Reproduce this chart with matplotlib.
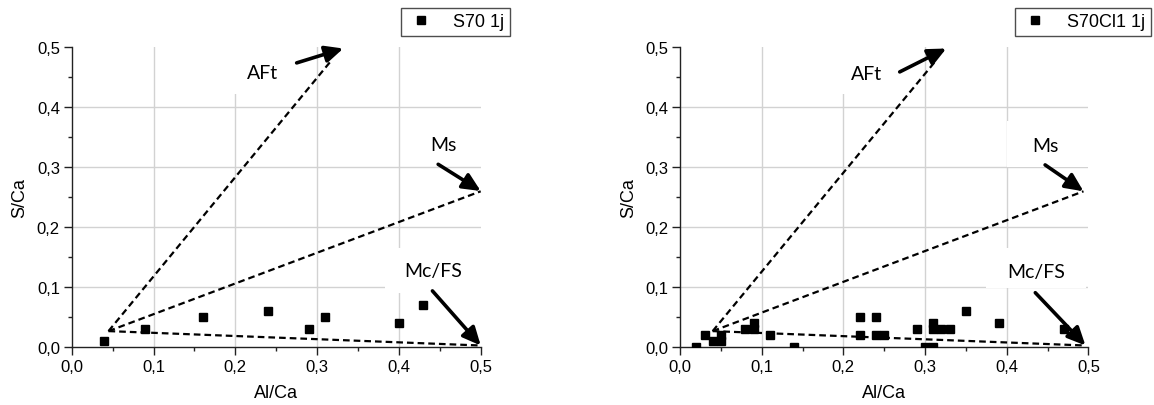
import matplotlib
matplotlib.use('Agg')
import matplotlib.pyplot as plt
from matplotlib.patches import Rectangle
from matplotlib.ticker import MultipleLocator

# ---------------- data ----------------
s70_al_ca = [0.04, 0.09, 0.16, 0.24, 0.29, 0.31, 0.40, 0.43]
s70_s_ca = [0.01, 0.03, 0.05, 0.06, 0.03, 0.05, 0.04, 0.07]

s70cl_al_ca = [0.02, 0.03, 0.04, 0.05, 0.05, 0.08, 0.09, 0.09, 0.11, 0.14,
               0.22, 0.22, 0.24, 0.24, 0.25, 0.29, 0.30, 0.31, 0.31, 0.31,
               0.32, 0.33, 0.35, 0.39, 0.47]
s70cl_s_ca = [0.00, 0.02, 0.01, 0.01, 0.02, 0.03, 0.03, 0.04, 0.02, 0.00,
              0.05, 0.02, 0.05, 0.02, 0.02, 0.03, 0.00, 0.00, 0.04, 0.03,
              0.03, 0.03, 0.06, 0.04, 0.03]

series_labels = ['S70 1j', 'S70Cl1 1j']
phase_labels = ['AFt', 'Ms', 'Mc/FS']

tick_values = [0.0, 0.1, 0.2, 0.3, 0.4, 0.5]
tick_labels = ['0,0', '0,1', '0,2', '0,3', '0,4', '0,5']
grid_values = [0.1, 0.2, 0.3, 0.4]

# dashed guide lines: common origin and end points (AFt, Ms, Mc/FS)
left_origin = (0.045, 0.027)
left_line_ends = [(0.318, 0.479), (0.5, 0.26), (0.5, 0.003)]
right_origin = (0.04, 0.027)
right_line_ends = [(0.314, 0.479), (0.494, 0.26), (0.4964, 0.003)]

# annotation: label position, arrow start, arrow tip, white box (x0, x1, y0, y1)
left_label_pos = [(0.233, 0.458), (0.454, 0.338), (0.442, 0.128)]
left_arrow_from = [(0.275, 0.474), (0.448, 0.305), (0.441, 0.094)]
left_arrow_to = [(0.332, 0.498), (0.5, 0.2605), (0.5, 0.003)]
left_boxes = [(0.197, 0.277, 0.422, 0.5), (0.403, 0.5, 0.302, 0.374), (0.383, 0.5, 0.091, 0.166)]

right_label_pos = [(0.228, 0.457), (0.448, 0.337), (0.4365, 0.127)]
right_arrow_from = [(0.269, 0.459), (0.447, 0.304), (0.435, 0.091)]
right_arrow_to = [(0.326, 0.498), (0.494, 0.26), (0.4964, 0.003)]
right_boxes = [(0.186, 0.269, 0.422, 0.5), (0.40, 0.5, 0.301, 0.378), (0.375, 0.4965, 0.0995, 0.166)]

W, H = 1154, 406
fig = plt.figure(figsize=(W / 100, H / 100), dpi=100)

TICK_FONT = dict(family='Liberation Sans', size=12)
LABEL_FONT = dict(family='Liberation Sans', size=13)


def make_panel(rect, xs, ys, label, origin, ends, lab_pos, arr_from, arr_to, boxes, legend_anchor):
    ax = fig.add_axes(rect)
    ax.set_xlim(0, 0.5)
    ax.set_ylim(0, 0.5)
    for s in ['top', 'right']:
        ax.spines[s].set_visible(False)
    for s in ['left', 'bottom']:
        ax.spines[s].set_linewidth(1.0)
        ax.spines[s].set_color('#222222')
    # grid
    for g in grid_values:
        ax.axvline(g, color='#d2d2d2', lw=1.0, zorder=0)
        ax.axhline(g, color='#d2d2d2', lw=1.0, zorder=0)
    # white boxes behind labels
    for (x0, x1, y0, y1) in boxes:
        ax.add_patch(Rectangle((x0, y0), x1 - x0, y1 - y0, facecolor='white',
                               edgecolor='none', zorder=1, clip_on=False))
    ax.set_xticks(tick_values)
    ax.set_xticklabels(tick_labels, fontdict=TICK_FONT)
    ax.set_yticks(tick_values)
    ax.set_yticklabels(tick_labels, fontdict=TICK_FONT)
    ax.xaxis.set_minor_locator(MultipleLocator(0.05))
    ax.yaxis.set_minor_locator(MultipleLocator(0.05))
    ax.tick_params(which='major', direction='out', length=5.5, width=1.0, color='#222222', pad=3)
    ax.tick_params(which='minor', direction='out', length=3, width=1.0, color='#222222')
    ax.set_xlabel('Al/Ca', fontdict=LABEL_FONT, labelpad=7)
    ax.set_ylabel('S/Ca', fontdict=LABEL_FONT, labelpad=6)

    # dashed lines
    for (ex, ey) in ends:
        ax.plot([origin[0], ex], [origin[1], ey], color='black', lw=1.6,
                dashes=(3.0, 1.8), zorder=3, clip_on=False)
    # data
    ax.plot(xs, ys, 's', color='black', markersize=5.8, zorder=4, label=label)

    # annotations
    for name, (tx, ty), a0, a1 in zip(phase_labels, lab_pos, arr_from, arr_to):
        ax.text(tx, ty, name, family='Lato', size=14, ha='center', va='center', zorder=5)
        ax.annotate('', xy=a1, xytext=a0,
                    arrowprops=dict(arrowstyle='-|>,head_length=0.9,head_width=0.42',
                                    lw=2.6, color='black', mutation_scale=12,
                                    shrinkA=0, shrinkB=0),
                    annotation_clip=False, zorder=6)

    leg = ax.legend(loc='upper right', bbox_to_anchor=legend_anchor,
                    bbox_transform=fig.transFigure, frameon=True, fancybox=False,
                    borderaxespad=0, prop=dict(family='Liberation Sans', size=13),
                    handletextpad=1.0, borderpad=0.3, handlelength=1.6,
                    markerscale=1.0)
    leg.get_frame().set_edgecolor('#222222')
    leg.get_frame().set_linewidth(1.0)
    return ax


left_rect = [71.7 / W, 1 - 348.3 / H, (480.7 - 71.7) / W, 300 / H]
right_rect = [680 / W, 1 - 348.3 / H, (1088.4 - 680) / W, 300 / H]

make_panel(left_rect, s70_al_ca, s70_s_ca, series_labels[0], left_origin, left_line_ends,
           left_label_pos, left_arrow_from, left_arrow_to, left_boxes, (510 / W, 1 - 9 / H))
make_panel(right_rect, s70cl_al_ca, s70cl_s_ca, series_labels[1], right_origin, right_line_ends,
           right_label_pos, right_arrow_from, right_arrow_to, right_boxes, (1151 / W, 1 - 9 / H))

fig.savefig('out.png', dpi=100)
